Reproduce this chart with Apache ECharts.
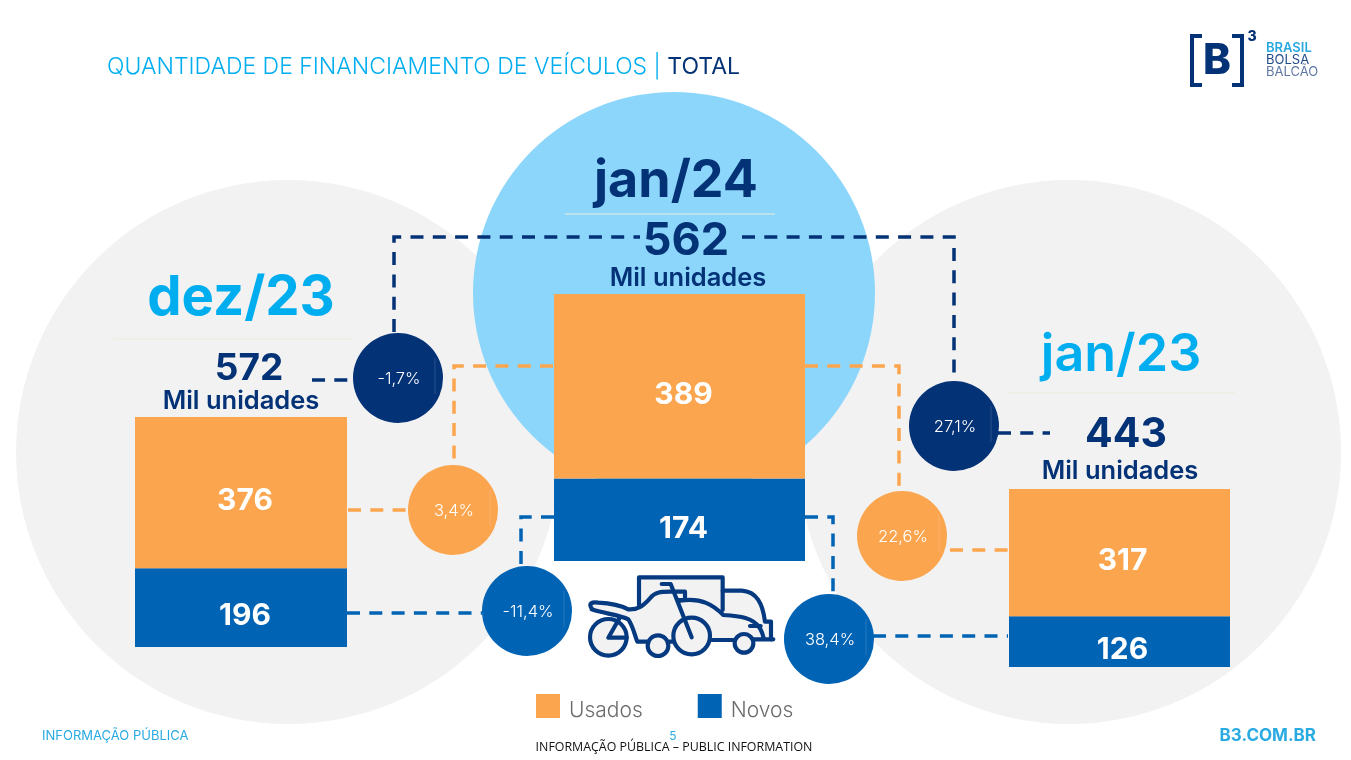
<!DOCTYPE html>
<html lang="pt-BR">
<head>
<meta charset="utf-8">
<title>Quantidade de financiamento de veículos</title>
<script src="https://cdn.jsdelivr.net/npm/echarts@6/dist/echarts.min.js"></script>
<style>html,body{margin:0;padding:0;background:#fff}#chart{width:1351px;height:760px}</style>
</head>
<body>
<div id="chart"></div>
<script>
// Financing volume by period, in thousand units
const periods = ['dez/23', 'jan/24', 'jan/23'];
const usados = [376, 389, 317];
const novos = [196, 174, 126];
const totais = [572, 562, 443];
const varTotal = ['-1,7%', '27,1%'];
const varUsados = ['3,4%', '22,6%'];
const varNovos = ['-11,4%', '38,4%'];

const LARANJA = '#FBA54E', AZUL = '#0063B4', MARINHO = '#043276', CIANO = '#00AEEF';
const FONT = 'Inter, "Noto Sans", sans-serif';

const chart = echarts.init(document.getElementById('chart'), null, { renderer: 'canvas' });

// One grid per period; each stack fills its own frame
const frames = [
  { left: 135, top: 417, width: 212, height: 230, off: [4, 8] },
  { left: 554, top: 294, width: 251, height: 267, off: [4, 9] },
  { left: 1009, top: 489, width: 221, height: 178, off: [3, 8] }
];
const grids = frames.map(f => ({ left: f.left, top: f.top, width: f.width, height: f.height }));
const xAxes = periods.map((p, i) => ({ type: 'category', gridIndex: i, data: [p], show: false }));
const yAxes = periods.map((p, i) => ({
  type: 'value', gridIndex: i, min: 0, max: usados[i] + novos[i], show: false
}));

const barLabel = off => ({
  show: true, position: 'inside', offset: off, color: '#fff',
  fontFamily: FONT, fontWeight: 700, fontSize: 30
});
const series = [];
periods.forEach((p, i) => {
  const common = { type: 'bar', stack: 'total' + i, xAxisIndex: i, yAxisIndex: i, barWidth: '100%', silent: true };
  series.push({ ...common, name: 'Novos', data: [novos[i]], itemStyle: { color: AZUL }, label: barLabel(frames[i].off) });
  series.push({ ...common, name: 'Usados', data: [usados[i]], itemStyle: { color: LARANJA }, label: barLabel(frames[i].off) });
});

const circle = (cx, cy, r, fill, z) => ({ type: 'circle', z, silent: true, shape: { cx, cy, r }, style: { fill } });
const txt = (x, y, text, font, fill, align, z) => ({
  type: 'text', z: z || 20, silent: true,
  style: { x, y, text, font, fill, textAlign: align || 'center', textVerticalAlign: 'middle' }
});
const dash = (points, color) => ({
  type: 'polyline', z: 5, silent: true, shape: { points },
  style: { stroke: color, lineWidth: 3.5, lineDash: [13, 9.3], fill: null }
});
const hair = (x1, x2, y) => ({
  type: 'line', z: 1, silent: true, shape: { x1, y1: y, x2, y2: y },
  style: { stroke: '#e9ecd8', lineWidth: 1 }
});
const bubble = (cx, cy, label, fill) => [
  circle(cx, cy, 45, fill, 10),
  { type: 'line', z: 11, silent: true, shape: { x1: cx + 37, y1: cy - 20, x2: cx + 37, y2: cy + 16 },
    style: { stroke: 'rgba(255,255,255,0.15)', lineWidth: 1 } },
  txt(cx + 1, cy + 1, label, '300 16.5px ' + FONT, '#fff')
];

// Motorcycle in front of a car and a van
const ICON = '#063A80';
const iconFills = [
  'M207 135 V52 H458 V92 H515 C560 95 578 130 585 185 H603 V238 H200 L175 178 L175 148 Z',
  'M65 145 C55 130 65 125 85 128 C120 130 150 135 175 148 L175 178 C150 165 100 160 65 148 Z'
];
const iconBodyLines = [
  'M207 135 V52 H458 V150',
  'M458 92 H515 C560 95 578 130 585 185 H603 V238',
  'M330 122 C395 112 430 135 460 165 C510 168 550 172 570 205 C578 218 580 228 582 238 M610 238 H552 M540 198 H572 M425 240 H490',
  'M65 145 C55 130 65 125 85 128 C120 130 150 135 175 148 C205 150 222 135 240 115 C255 95 275 95 300 95 H345 V120 H325',
  'M65 148 C100 160 150 165 175 178 C190 200 195 230 202 245 H232 M298 245 H308'
];
const iconFrontLines = [
  'M275 72 H302 L365 232',
  'M115 233 L150 172 M115 233 H170'
];
const iconWheels = [[264, 257, 31], [522, 250, 28], [115, 232, 55], [365, 228, 55]];
iconFills.concat(iconBodyLines, iconFrontLines).forEach((d, i) =>
  echarts.graphic.registerShape('iconPart' + i, echarts.graphic.extendPath(d)));
const lineStyle = { fill: 'none', stroke: ICON, lineWidth: 12.5, lineJoin: 'round', lineCap: 'round' };
let part = 0;
const icone = {
  type: 'group', x: 570, y: 560, scaleX: 1 / 3, scaleY: 1 / 3, silent: true,
  children: [
    ...iconFills.map(() => ({ type: 'iconPart' + part++, z: 7, style: { fill: '#f2f2f2' } })),
    ...iconBodyLines.map(() => ({ type: 'iconPart' + part++, z: 8, style: lineStyle })),
    ...iconWheels.map(([cx, cy, r]) => ({
      type: 'circle', z: 9, shape: { cx, cy, r }, style: { fill: '#f2f2f2', stroke: ICON, lineWidth: 12.5 }
    })),
    ...iconFrontLines.map(() => ({ type: 'iconPart' + part++, z: 10, style: lineStyle }))
  ]
};

// Exchange logo, drawn from strokes and text
const logo = [
  { type: 'polyline', z: 20, silent: true, shape: { points: [[1202, 36], [1192, 36], [1192, 85], [1202, 85]] }, style: { stroke: MARINHO, lineWidth: 4, fill: null } },
  { type: 'polyline', z: 20, silent: true, shape: { points: [[1232, 36], [1242, 36], [1242, 85], [1232, 85]] }, style: { stroke: MARINHO, lineWidth: 4, fill: null } },
  txt(1217, 61, 'B', '800 42px ' + FONT, MARINHO),
  txt(1252, 37, '3', '800 14px ' + FONT, MARINHO),
  txt(1266, 48, 'BRASIL', '600 13px ' + FONT, '#2AA9E0', 'left'),
  txt(1266, 60, 'BOLSA', '400 13px ' + FONT, '#1F4B8A', 'left'),
  txt(1266, 72, 'BALCÃO', '400 13px ' + FONT, '#5E78A5', 'left')
];

const graphic = [
  circle(288, 452, 272, '#f2f2f2', 0),
  circle(1069, 452, 272, '#f2f2f2', 0),
  circle(674, 293, 201, '#8DD6FB', 0.5),
  hair(113, 352, 339), hair(565, 775, 214), hair(1008, 1235, 393),

  dash([[394, 332], [394, 237], [640, 237]], MARINHO),
  dash([[742, 237], [954, 237], [954, 378]], MARINHO),
  dash([[312, 380], [354, 380]], MARINHO),
  dash([[998, 433], [1050, 433]], MARINHO),
  dash([[553, 366], [454, 366], [454, 464]], LARANJA),
  dash([[348, 510], [408, 510]], LARANJA),
  dash([[805, 366], [899, 366], [899, 492]], LARANJA),
  dash([[950, 550], [1008, 550]], LARANJA),
  dash([[347, 613], [482, 613]], AZUL),
  dash([[554, 517], [521, 517], [521, 568]], AZUL),
  dash([[805, 517], [833, 517], [833, 596]], AZUL),
  dash([[873, 636], [1008, 636]], AZUL),

  ...bubble(398, 378, varTotal[0], MARINHO),
  ...bubble(954, 426, varTotal[1], MARINHO),
  ...bubble(453, 510, varUsados[0], LARANJA),
  ...bubble(902, 536, varUsados[1], LARANJA),
  ...bubble(527, 611, varNovos[0], AZUL),
  ...bubble(829, 639, varNovos[1], AZUL),

  txt(241, 299, periods[0], '700 54.5px ' + FONT, CIANO),
  txt(676, 181, periods[1], '700 52px ' + FONT, MARINHO),
  txt(1121, 355, periods[2], '600 52px ' + FONT, CIANO),
  txt(249, 369, String(totais[0]), '700 37px ' + FONT, MARINHO),
  txt(686, 241, String(totais[1]), '700 45px ' + FONT, MARINHO),
  txt(1126, 435, String(totais[2]), '700 41px ' + FONT, MARINHO),
  txt(241, 401, 'Mil unidades', '600 25.5px ' + FONT, MARINHO),
  txt(688, 278, 'Mil unidades', '600 25.5px ' + FONT, MARINHO),
  txt(1120, 471, 'Mil unidades', '600 25.5px ' + FONT, MARINHO),

  icone,
  ...logo,

  txt(42, 736, 'INFORMAÇÃO PÚBLICA', '400 13px ' + FONT, '#29ABE2', 'left'),
  txt(1316, 736, 'B3.COM.BR', '700 17px ' + FONT, '#29ABE2', 'right'),
  txt(673, 736, '5', '400 12px ' + FONT, '#29ABE2'),
  txt(674, 747, 'INFORMAÇÃO PÚBLICA – PUBLIC INFORMATION', '400 12.4px "Open Sans", sans-serif', '#111')
];

chart.setOption({
  animation: false,
  backgroundColor: '#fff',
  title: {
    left: 107, top: 56, padding: 0,
    text: '{a|QUANTIDADE DE FINANCIAMENTO DE VEÍCULOS | }{b|TOTAL}',
    textStyle: {
      rich: {
        a: { fontFamily: FONT, fontWeight: 300, fontSize: 23, color: CIANO },
        b: { fontFamily: FONT, fontWeight: 400, fontSize: 23, color: MARINHO }
      }
    }
  },
  legend: {
    left: 536, top: 694, padding: 0, itemWidth: 24, itemHeight: 24, itemGap: 55,
    data: ['Usados', 'Novos'], selectedMode: false, icon: 'rect',
    formatter: '{t|{name}}',
    textStyle: {
      rich: {
        t: { fontFamily: FONT, fontSize: 21, fontWeight: 300, color: '#6b6b6b', padding: [10, 0, 0, 4] }
      }
    }
  },
  grid: grids,
  xAxis: xAxes,
  yAxis: yAxes,
  series,
  graphic: { elements: graphic }
});
</script>
</body>
</html>
